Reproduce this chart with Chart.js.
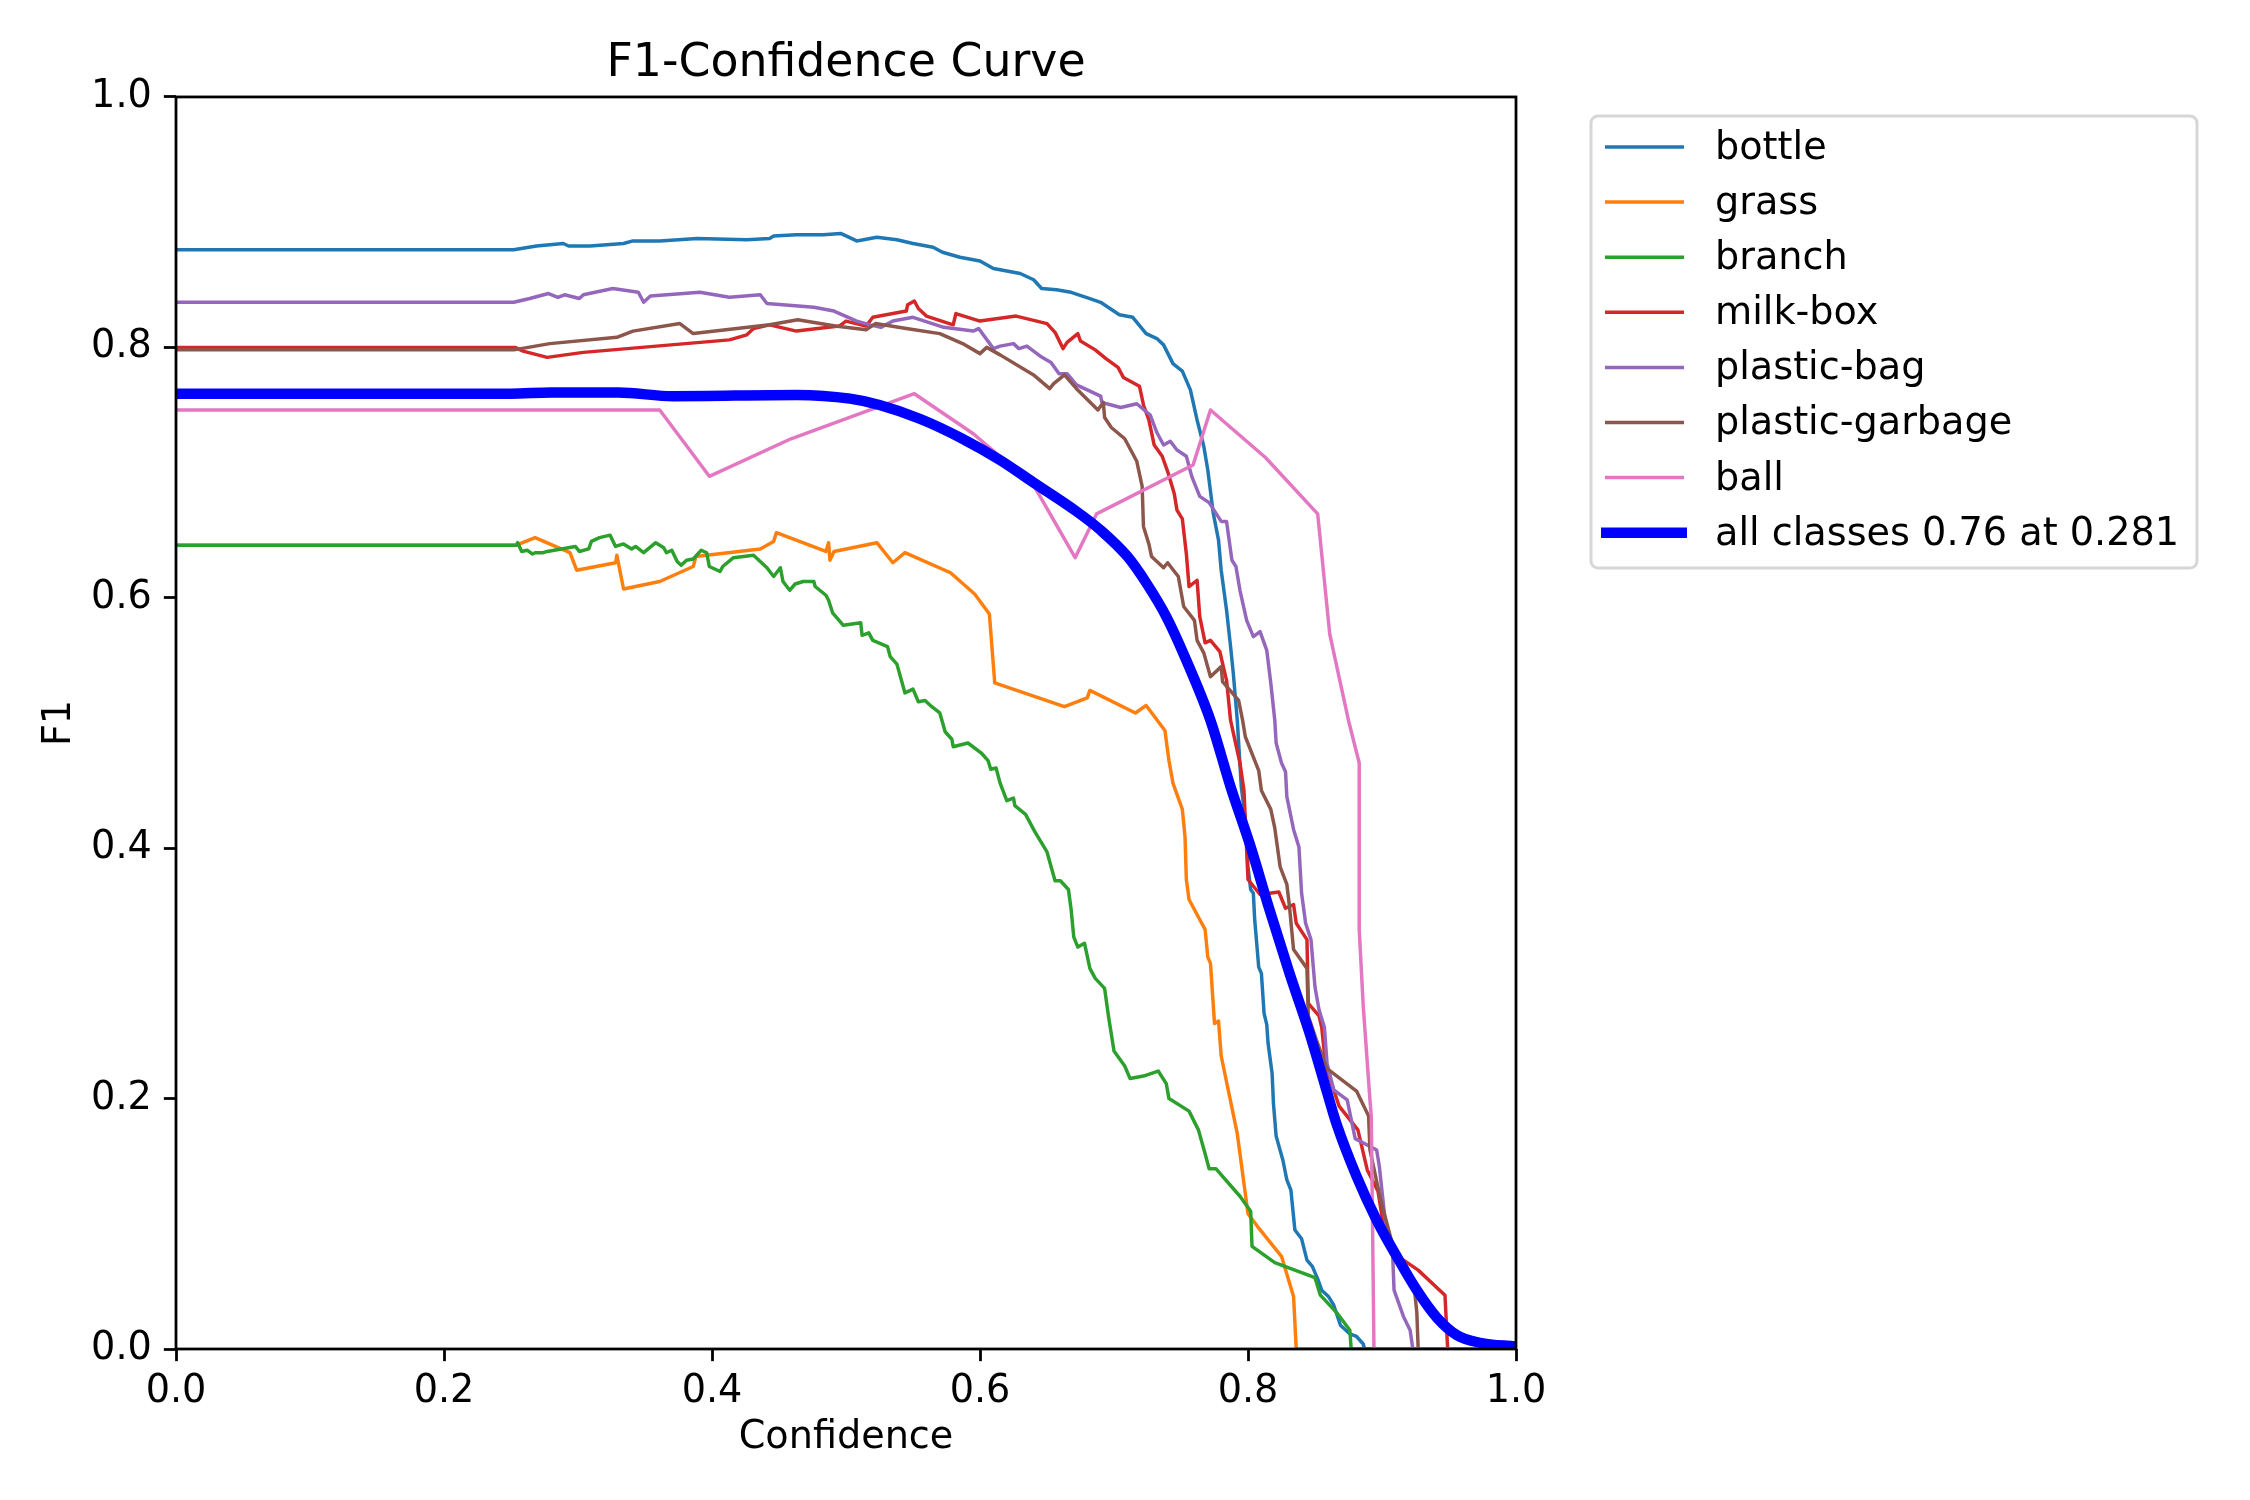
<!DOCTYPE html>
<html>
<head>
<meta charset="utf-8">
<title>F1-Confidence Curve</title>
<script src="https://cdn.jsdelivr.net/npm/chart.js@4.4.1/dist/chart.umd.min.js"></script>
<style>
    html, body { margin: 0; padding: 0; background: #ffffff; }
    #wrap { width: 2250px; height: 1500px; }
</style>
</head>
<body>
<div id="wrap"><canvas id="f1Chart" width="2250" height="1500"></canvas></div>
<script>
// [confidence, F1] pairs
const bottle = [
    [0, 0.878], [0.252, 0.878], [0.269, 0.881], [0.289, 0.883], [0.293, 0.881],
    [0.309, 0.881], [0.334, 0.883], [0.341, 0.885], [0.361, 0.885], [0.389, 0.887],
    [0.426, 0.886], [0.443, 0.887], [0.446, 0.889], [0.463, 0.890], [0.483, 0.890],
    [0.496, 0.891], [0.500, 0.889], [0.508, 0.885], [0.523, 0.888], [0.538, 0.886],
    [0.550, 0.883], [0.565, 0.880], [0.572, 0.876], [0.585, 0.872], [0.600, 0.869],
    [0.610, 0.863], [0.630, 0.859], [0.640, 0.854], [0.646, 0.847], [0.657, 0.846],
    [0.668, 0.844], [0.682, 0.839], [0.690, 0.836], [0.704, 0.826], [0.714, 0.824],
    [0.724, 0.811], [0.732, 0.807], [0.737, 0.802], [0.744, 0.787], [0.751, 0.781],
    [0.757, 0.766], [0.762, 0.742], [0.767, 0.721], [0.770, 0.702], [0.774, 0.668],
    [0.778, 0.646], [0.780, 0.622], [0.784, 0.590], [0.787, 0.561], [0.789, 0.540],
    [0.792, 0.502], [0.795, 0.449], [0.798, 0.423], [0.800, 0.385], [0.802, 0.367],
    [0.804, 0.364], [0.805, 0.343], [0.808, 0.305], [0.810, 0.300], [0.812, 0.268],
    [0.814, 0.259], [0.815, 0.244], [0.818, 0.220], [0.819, 0.196], [0.821, 0.170],
    [0.826, 0.151], [0.829, 0.135], [0.832, 0.127], [0.835, 0.095], [0.840, 0.088],
    [0.844, 0.071], [0.848, 0.066], [0.852, 0.056], [0.855, 0.047], [0.860, 0.042],
    [0.864, 0.035], [0.869, 0.019], [0.876, 0.012], [0.881, 0.010], [0.886, 0.004],
    [0.887, 0], [1, 0],
];

const grass = [
    [0, 0.642], [0.254, 0.642], [0.268, 0.648], [0.294, 0.636], [0.299, 0.622],
    [0.328, 0.628], [0.329, 0.634], [0.334, 0.607], [0.361, 0.613], [0.386, 0.625],
    [0.388, 0.633], [0.436, 0.639], [0.446, 0.645], [0.448, 0.652], [0.485, 0.637],
    [0.487, 0.644], [0.488, 0.630], [0.491, 0.637], [0.523, 0.644], [0.535, 0.628],
    [0.544, 0.636], [0.578, 0.620], [0.596, 0.603], [0.607, 0.587], [0.611, 0.532],
    [0.663, 0.513], [0.680, 0.520], [0.682, 0.526], [0.716, 0.508], [0.724, 0.514],
    [0.738, 0.494], [0.741, 0.470], [0.744, 0.452], [0.751, 0.431], [0.753, 0.409],
    [0.754, 0.375], [0.756, 0.359], [0.768, 0.335], [0.770, 0.313], [0.772, 0.308],
    [0.775, 0.260], [0.778, 0.262], [0.780, 0.234], [0.792, 0.172], [0.800, 0.108],
    [0.807, 0.098], [0.825, 0.074], [0.834, 0.042], [0.836, 0], [1, 0],
];

const branch = [
    [0, 0.642], [0.254, 0.642], [0.255, 0.644], [0.258, 0.637], [0.262, 0.638],
    [0.266, 0.635], [0.268, 0.636], [0.274, 0.636], [0.277, 0.637], [0.298, 0.641],
    [0.301, 0.637], [0.308, 0.639], [0.310, 0.645], [0.316, 0.648], [0.324, 0.650],
    [0.328, 0.641], [0.334, 0.643], [0.340, 0.639], [0.343, 0.641], [0.349, 0.636],
    [0.358, 0.644], [0.364, 0.640], [0.366, 0.636], [0.370, 0.638], [0.374, 0.629],
    [0.377, 0.626], [0.381, 0.630], [0.386, 0.631], [0.392, 0.638], [0.396, 0.636],
    [0.398, 0.625], [0.406, 0.621], [0.408, 0.625], [0.416, 0.632], [0.431, 0.634],
    [0.441, 0.624], [0.446, 0.617], [0.451, 0.624], [0.453, 0.613], [0.458, 0.606],
    [0.462, 0.611], [0.468, 0.613], [0.476, 0.613], [0.477, 0.609], [0.485, 0.602],
    [0.487, 0.598], [0.490, 0.588], [0.498, 0.578], [0.511, 0.580], [0.512, 0.570],
    [0.517, 0.572], [0.520, 0.566], [0.531, 0.561], [0.533, 0.553], [0.538, 0.547],
    [0.544, 0.524], [0.550, 0.527], [0.554, 0.517], [0.559, 0.518], [0.564, 0.513],
    [0.570, 0.508], [0.574, 0.493], [0.579, 0.487], [0.580, 0.481], [0.591, 0.484],
    [0.601, 0.476], [0.606, 0.470], [0.608, 0.463], [0.612, 0.464], [0.615, 0.452],
    [0.620, 0.438], [0.625, 0.440], [0.626, 0.434], [0.634, 0.427], [0.641, 0.413],
    [0.650, 0.397], [0.656, 0.374], [0.660, 0.374], [0.666, 0.367], [0.668, 0.351],
    [0.670, 0.329], [0.673, 0.321], [0.678, 0.324], [0.682, 0.304], [0.686, 0.296],
    [0.693, 0.288], [0.696, 0.265], [0.700, 0.238], [0.708, 0.226], [0.712, 0.216],
    [0.722, 0.218], [0.733, 0.222], [0.739, 0.212], [0.741, 0.200], [0.756, 0.190],
    [0.763, 0.175], [0.768, 0.156], [0.771, 0.144], [0.776, 0.144], [0.794, 0.122],
    [0.802, 0.110], [0.803, 0.082], [0.820, 0.069], [0.850, 0.057], [0.854, 0.043],
    [0.867, 0.028], [0.876, 0.015], [0.877, 0], [1, 0],
];

const milkBox = [
    [0, 0.800], [0.253, 0.800], [0.259, 0.797], [0.277, 0.792], [0.304, 0.796],
    [0.413, 0.806], [0.426, 0.810], [0.431, 0.815], [0.443, 0.818], [0.463, 0.813],
    [0.495, 0.817], [0.500, 0.821], [0.515, 0.817], [0.520, 0.824], [0.545, 0.829],
    [0.546, 0.834], [0.551, 0.837], [0.554, 0.831], [0.560, 0.825], [0.580, 0.818],
    [0.582, 0.827], [0.600, 0.821], [0.627, 0.825], [0.650, 0.819], [0.656, 0.812],
    [0.662, 0.799], [0.665, 0.804], [0.673, 0.811], [0.675, 0.805], [0.686, 0.798],
    [0.694, 0.791], [0.703, 0.784], [0.707, 0.776], [0.719, 0.769], [0.722, 0.754],
    [0.726, 0.742], [0.730, 0.722], [0.736, 0.713], [0.740, 0.701], [0.745, 0.683],
    [0.747, 0.670], [0.751, 0.663], [0.754, 0.635], [0.756, 0.609], [0.762, 0.614],
    [0.764, 0.585], [0.768, 0.564], [0.772, 0.566], [0.779, 0.557], [0.782, 0.543],
    [0.784, 0.534], [0.787, 0.502], [0.794, 0.468], [0.797, 0.446], [0.800, 0.375],
    [0.809, 0.363], [0.823, 0.365], [0.828, 0.352], [0.834, 0.355], [0.836, 0.340],
    [0.844, 0.327], [0.845, 0.276], [0.853, 0.266], [0.855, 0.257], [0.858, 0.226],
    [0.868, 0.194], [0.882, 0.175], [0.889, 0.143], [0.897, 0.126], [0.902, 0.093],
    [0.912, 0.074], [0.927, 0.063], [0.947, 0.043], [0.949, 0], [1, 0],
];

const plasticBag = [
    [0, 0.836], [0.252, 0.836], [0.264, 0.839], [0.278, 0.843], [0.285, 0.840],
    [0.290, 0.842], [0.301, 0.839], [0.304, 0.842], [0.326, 0.847], [0.345, 0.844],
    [0.349, 0.836], [0.354, 0.841], [0.391, 0.844], [0.413, 0.840], [0.436, 0.842],
    [0.441, 0.835], [0.476, 0.832], [0.491, 0.829], [0.508, 0.821], [0.518, 0.818],
    [0.526, 0.816], [0.535, 0.821], [0.550, 0.824], [0.573, 0.816], [0.595, 0.813],
    [0.599, 0.815], [0.610, 0.799], [0.615, 0.801], [0.625, 0.803], [0.629, 0.799],
    [0.635, 0.801], [0.645, 0.793], [0.653, 0.788], [0.659, 0.779], [0.665, 0.779],
    [0.672, 0.770], [0.690, 0.761], [0.691, 0.756], [0.705, 0.752], [0.717, 0.755],
    [0.727, 0.746], [0.732, 0.732], [0.737, 0.722], [0.742, 0.725], [0.747, 0.718],
    [0.754, 0.713], [0.758, 0.697], [0.764, 0.681], [0.771, 0.676], [0.780, 0.661],
    [0.784, 0.661], [0.788, 0.630], [0.791, 0.625], [0.794, 0.606], [0.799, 0.582],
    [0.804, 0.569], [0.809, 0.573], [0.814, 0.558], [0.817, 0.532], [0.820, 0.502],
    [0.821, 0.484], [0.825, 0.468], [0.828, 0.461], [0.829, 0.441], [0.834, 0.415],
    [0.838, 0.401], [0.840, 0.364], [0.843, 0.340], [0.847, 0.327], [0.850, 0.289],
    [0.853, 0.271], [0.857, 0.257], [0.859, 0.228], [0.864, 0.207], [0.874, 0.199],
    [0.880, 0.168], [0.896, 0.159], [0.898, 0.146], [0.902, 0.106], [0.908, 0.074],
    [0.909, 0.047], [0.916, 0.026], [0.921, 0.015], [0.923, 0], [1, 0],
];

const plasticGarbage = [
    [0, 0.798], [0.252, 0.798], [0.279, 0.803], [0.329, 0.808], [0.341, 0.813],
    [0.376, 0.819], [0.386, 0.811], [0.443, 0.818], [0.464, 0.822], [0.492, 0.817],
    [0.515, 0.814], [0.522, 0.819], [0.545, 0.815], [0.570, 0.811], [0.587, 0.803],
    [0.600, 0.795], [0.605, 0.800], [0.615, 0.794], [0.640, 0.778], [0.652, 0.767],
    [0.655, 0.771], [0.663, 0.778], [0.672, 0.767], [0.688, 0.750], [0.692, 0.756],
    [0.693, 0.744], [0.698, 0.736], [0.708, 0.727], [0.717, 0.709], [0.721, 0.689],
    [0.722, 0.657], [0.726, 0.643], [0.728, 0.633], [0.737, 0.624], [0.740, 0.628],
    [0.748, 0.617], [0.752, 0.593], [0.760, 0.582], [0.762, 0.566], [0.767, 0.556],
    [0.772, 0.537], [0.780, 0.545], [0.781, 0.533], [0.793, 0.518], [0.796, 0.502],
    [0.798, 0.489], [0.808, 0.462], [0.810, 0.446], [0.817, 0.431], [0.820, 0.416],
    [0.824, 0.385], [0.829, 0.371], [0.831, 0.353], [0.834, 0.319], [0.844, 0.304],
    [0.845, 0.266], [0.851, 0.247], [0.859, 0.224], [0.881, 0.206], [0.890, 0.186],
    [0.891, 0.159], [0.899, 0.119], [0.909, 0.079], [0.924, 0.050], [0.926, 0.029],
    [0.927, 0], [1, 0],
];

const ball = [
    [0, 0.750], [0.361, 0.750], [0.398, 0.697], [0.459, 0.727], [0.551, 0.763],
    [0.595, 0.731], [0.640, 0.690], [0.671, 0.632], [0.687, 0.667], [0.759, 0.706],
    [0.772, 0.750], [0.813, 0.712], [0.852, 0.667], [0.861, 0.571], [0.875, 0.502],
    [0.883, 0.468], [0.883, 0.335], [0.886, 0.274], [0.891, 0.199], [0.892, 0.186],
    [0.894, 0], [1, 0],
];

const allClasses = [
    [0, 0.763], [0.25, 0.763], [0.28, 0.764], [0.33, 0.764], [0.371, 0.761],
    [0.463, 0.762], [0.503, 0.759], [0.525, 0.754], [0.555, 0.743], [0.587, 0.727],
    [0.615, 0.710], [0.640, 0.692], [0.672, 0.669], [0.690, 0.654], [0.710, 0.633],
    [0.724, 0.612], [0.739, 0.585], [0.754, 0.550], [0.772, 0.502], [0.787, 0.449],
    [0.802, 0.401], [0.816, 0.351], [0.831, 0.300], [0.846, 0.252], [0.859, 0.205],
    [0.866, 0.180], [0.881, 0.138], [0.896, 0.103], [0.911, 0.074], [0.926, 0.047],
    [0.941, 0.025], [0.956, 0.011], [0.973, 0.005], [1, 0.002],
];

const classNames = ["bottle", "grass", "branch", "milk-box", "plastic-bag", "plastic-garbage", "ball"];
const classCurves = [bottle, grass, branch, milkBox, plasticBag, plasticGarbage, ball];
const classColors = ["#1f77b4", "#ff7f0e", "#2ca02c", "#d62728", "#9467bd", "#8c564b", "#e377c2"];
const allLabel = "all classes 0.76 at 0.281";
const xTicks = [0, 0.2, 0.4, 0.6, 0.8, 1.0];
const yTicks = [0, 0.2, 0.4, 0.6, 0.8, 1.0];

const FONT = "'DejaVu Sans', sans-serif";
const PT = 250 / 72; // matplotlib points at 250 dpi
const TEXT_PX = 38.2;
const TITLE_PX = 45.8;

const toPoints = (pairs) => pairs.map(([x, y]) => ({ x, y }));

const datasets = classCurves.map((curve, i) => ({
    label: classNames[i],
    data: toPoints(curve),
    borderColor: classColors[i],
    borderWidth: 1 * PT,
    order: classCurves.length + 1 - i,
}));
datasets.push({
    label: allLabel,
    data: toPoints(allClasses),
    borderColor: "#0000ff",
    borderWidth: 3 * PT,
    cubicInterpolationMode: "monotone",
    order: 0,
});

// top and right spines drawn over the curves, like matplotlib
const frame = {
    id: "frame",
    afterDatasetsDraw(chart) {
        const { ctx, chartArea: a } = chart;
        ctx.save();
        ctx.strokeStyle = "#000000";
        ctx.lineWidth = 0.8 * PT;
        ctx.strokeRect(a.left, a.top, a.right - a.left, a.bottom - a.top);
        ctx.restore();
    },
};

// boxed legend outside the axes, upper left at (1.04, 1)
const legendBox = {
    id: "legendBox",
    afterDraw(chart) {
        const ctx = chart.ctx;
        const box = { x: 1591, y: 116, w: 606, h: 452 };
        ctx.save();
        ctx.fillStyle = "rgba(255, 255, 255, 0.8)";
        ctx.strokeStyle = "rgba(204, 204, 204, 0.8)";
        ctx.lineWidth = 3;
        ctx.beginPath();
        ctx.roundRect(box.x, box.y, box.w, box.h, 7);
        ctx.fill();
        ctx.stroke();

        chart.data.datasets.forEach((ds, i) => {
            const rowY = 147 + i * 55.1;
            const thick = ds.borderWidth > 5;
            ctx.strokeStyle = ds.borderColor;
            ctx.lineWidth = ds.borderWidth;
            ctx.lineCap = "butt";
            ctx.beginPath();
            ctx.moveTo(thick ? 1601 : 1605, rowY);
            ctx.lineTo(thick ? 1687 : 1684, rowY);
            ctx.stroke();

            ctx.fillStyle = "#000000";
            ctx.font = `${TEXT_PX}px ${FONT}`;
            ctx.textBaseline = "middle";
            ctx.textAlign = "left";
            ctx.fillText(ds.label, 1715, rowY + 2);
        });
        ctx.restore();
    },
};

const axisCommon = {
    type: "linear",
    min: 0,
    max: 1,
    border: { display: false },
    grid: {
        display: true,
        drawOnChartArea: false,
        drawTicks: true,
        tickLength: 3.5 * PT,
        tickWidth: 0.8 * PT,
        tickColor: "#000000",
    },
};

new Chart(document.getElementById("f1Chart"), {
    type: "line",
    data: { datasets },
    options: {
        responsive: false,
        devicePixelRatio: 1,
        animation: false,
        clip: 0,
        elements: {
            point: { radius: 0 },
            line: { tension: 0, borderJoinStyle: "round", fill: false },
        },
        layout: { padding: { left: 0, right: 734, top: 0, bottom: 0 } },
        plugins: {
            legend: { display: false },
            tooltip: { enabled: false },
            title: {
                display: true,
                fullSize: false,
                text: "F1-Confidence Curve",
                color: "#000000",
                font: { family: FONT, size: TITLE_PX, weight: "normal" },
                padding: { top: 37, bottom: 5 },
            },
        },
        scales: {
            x: {
                ...axisCommon,
                afterBuildTicks: (scale) => {
                    scale.ticks = xTicks.map((v) => ({ value: v }));
                },
                afterFit: (scale) => {
                    scale.height = 151;
                },
                ticks: {
                    color: "#000000",
                    padding: 8,
                    maxRotation: 0,
                    font: { family: FONT, size: TEXT_PX },
                    callback: (v) => Number(v).toFixed(1),
                },
                title: {
                    display: true,
                    text: "Confidence",
                    color: "#000000",
                    font: { family: FONT, size: TEXT_PX },
                    padding: { top: 0, bottom: 39 },
                },
            },
            y: {
                ...axisCommon,
                afterBuildTicks: (scale) => {
                    scale.ticks = yTicks.map((v) => ({ value: v }));
                },
                afterFit: (scale) => {
                    scale.width = 176;
                },
                ticks: {
                    color: "#000000",
                    padding: 12,
                    font: { family: FONT, size: TEXT_PX },
                    callback: (v) => Number(v).toFixed(1),
                },
                title: {
                    display: true,
                    text: "F1",
                    color: "#000000",
                    font: { family: FONT, size: TEXT_PX },
                    padding: { top: 37, bottom: 0 },
                },
            },
        },
    },
    plugins: [frame, legendBox],
});
</script>
</body>
</html>
